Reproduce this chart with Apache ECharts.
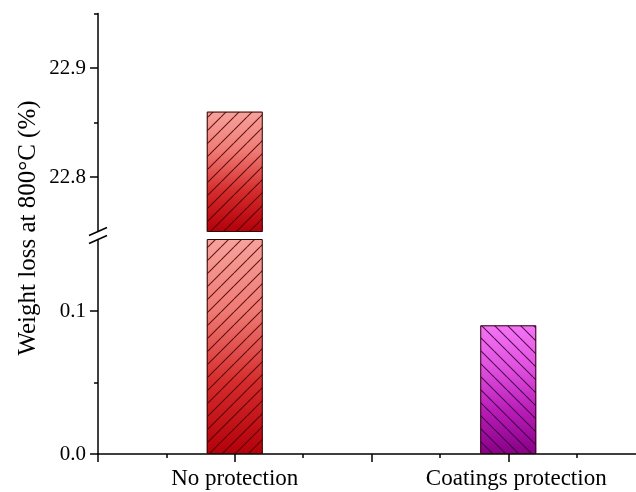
<!DOCTYPE html>
<html><head><meta charset="utf-8">
<script src="https://cdn.jsdelivr.net/npm/echarts@6/dist/echarts.min.js"></script>
<style>html,body{margin:0;padding:0;background:#fff}#c{width:636px;height:492px}</style>
</head><body><div id="c"></div>
<script>
const categories = ['No protection', 'Coatings protection'];
const categoryPositions = [1, 2];
const weightLoss = [22.86, 0.09];
const lowerRange = [0, 0.15];
const upperRange = [22.75, 22.95];
const lowerTicks = [0, 0.1];
const lowerMinorTicks = [0.05];
const upperTicks = [22.8, 22.9];
const upperMinorTicks = [22.85, 22.95];
const xRange = [0.5, 2.5];
const yTitle = 'Weight loss at 800°C (%)';

const FONT = '"Liberation Serif", "Times New Roman", serif';

function hatch(dir, color) {
  const s = 13;
  const c = document.createElement('canvas');
  c.width = s; c.height = s;
  const g = c.getContext('2d');
  g.strokeStyle = color; g.lineWidth = 1.1;
  g.beginPath();
  for (const o of [-s, 0, s]) {
    if (dir === '/') { g.moveTo(o, s); g.lineTo(o + s, 0); }
    else { g.moveTo(o, 0); g.lineTo(o + s, s); }
  }
  g.stroke();
  return c;
}
function grad(stops) {
  return { type: 'linear', x: 0, y: 0, x2: 0, y2: 1,
    colorStops: stops.map((c, i) => ({ offset: i / (stops.length - 1), color: c })) };
}
const fills = [
  grad(['#f7a29c', '#ef7a74', '#d42c2c', '#b4000a']),
  grad(['#f574f5', '#e050e0', '#b81cb8', '#880088'])
];
const hatches = [
  { image: hatch('/', 'rgba(70,0,0,0.85)'), repeat: 'repeat' },
  { image: hatch('\\', 'rgba(50,0,50,0.85)'), repeat: 'repeat' }
];

const grids = [
  { left: 98, right: -9, top: 13.5, height: 218 },
  { left: 98, right: -9, top: 239.5, height: 214.5 }
];
const axisLine = { show: true, lineStyle: { color: '#000', width: 1.5 } };
const labelStyle = { color: '#000', fontFamily: FONT, fontSize: 21 };

function yAxes(gi, range, ticks, minor) {
  return [
    { type: 'value', gridIndex: gi, min: range[0], max: range[1], interval: 0.05,
      axisLine: axisLine, splitLine: { show: false },
      axisTick: { show: true, length: 8, customValues: ticks, lineStyle: { color: '#000', width: 1.5 } },
      axisLabel: { show: true, customValues: ticks, margin: 12, ...labelStyle,
        formatter: v => v.toFixed(1) } },
    { type: 'value', gridIndex: gi, min: range[0], max: range[1], interval: 0.05,
      position: 'left', offset: 0,
      axisLine: { show: false }, splitLine: { show: false }, axisLabel: { show: false },
      axisTick: { show: true, length: 4, customValues: minor, lineStyle: { color: '#000', width: 1.5 } } }
  ];
}

const xAxes = [
  { type: 'value', gridIndex: 0, min: xRange[0], max: xRange[1], interval: 0.5, show: false },
  { type: 'value', gridIndex: 1, min: xRange[0], max: xRange[1], interval: 0.5,
    axisLine: axisLine, splitLine: { show: false },
    axisTick: { show: true, length: 8, lineStyle: { color: '#000', width: 1.5 } },
    minorTick: { show: true, splitNumber: 2, length: 4, lineStyle: { color: '#000', width: 1.5 } },
    axisLabel: { margin: 13, ...labelStyle, fontSize: 23,
      rich: { a: { fontFamily: FONT, fontSize: 23, color: '#000' },
              b: { fontFamily: FONT, fontSize: 23, color: '#000', padding: [0, 0, 0, 16] } },
      formatter: v => { const i = categoryPositions.indexOf(v); return i >= 0 ? '{' + (i ? 'b' : 'a') + '|' + categories[i] + '}' : ''; } } }
];

const series = [];
[0, 1].forEach(gi => {
  const yIdx = gi * 2;
  series.push({
    type: 'bar', xAxisIndex: gi, yAxisIndex: yIdx, barWidth: 56, barGap: '-100%', clip: true, silent: true,
    data: categoryPositions.map((x, i) => ({ value: [x, weightLoss[i]], itemStyle: { color: fills[i] } }))
  });
  series.push({
    type: 'bar', xAxisIndex: gi, yAxisIndex: yIdx, barWidth: 56, barGap: '-100%', clip: true, silent: true,
    data: categoryPositions.map((x, i) => ({ value: [x, weightLoss[i]],
      itemStyle: { color: hatches[i], borderColor: '#2a0a0a', borderWidth: 1 } }))
  });
});

const chart = echarts.init(document.getElementById('c'), null, { renderer: 'canvas' });
chart.setOption({
  animation: false,
  backgroundColor: '#fff',
  grid: grids.map(g => ({ ...g, outerBoundsMode: 'none', containLabel: false })),
  xAxis: xAxes,
  yAxis: [...yAxes(0, upperRange, upperTicks, upperMinorTicks), ...yAxes(1, lowerRange, lowerTicks, lowerMinorTicks)],
  series: series
});

// axis break marks and y-axis title
const yTop = chart.convertToPixel({ yAxisIndex: 0 }, upperRange[0]);
const yBot = chart.convertToPixel({ yAxisIndex: 2 }, lowerRange[1]);
const ax = chart.convertToPixel({ xAxisIndex: 1 }, xRange[0]);
chart.setOption({
  graphic: [
    { type: 'line', shape: { x1: ax - 9, y1: yTop + 4, x2: ax + 9, y2: yTop - 4 }, style: { stroke: '#000', lineWidth: 1.5 } },
    { type: 'line', shape: { x1: ax - 9, y1: yBot + 4, x2: ax + 9, y2: yBot - 4 }, style: { stroke: '#000', lineWidth: 1.5 } },
    { type: 'text', x: 28, y: 228, rotation: Math.PI / 2,
      style: { text: yTitle, font: '25px ' + FONT, fill: '#000', align: 'center', verticalAlign: 'middle',
        textAlign: 'center', textVerticalAlign: 'middle' } }
  ]
});
</script></body></html>
